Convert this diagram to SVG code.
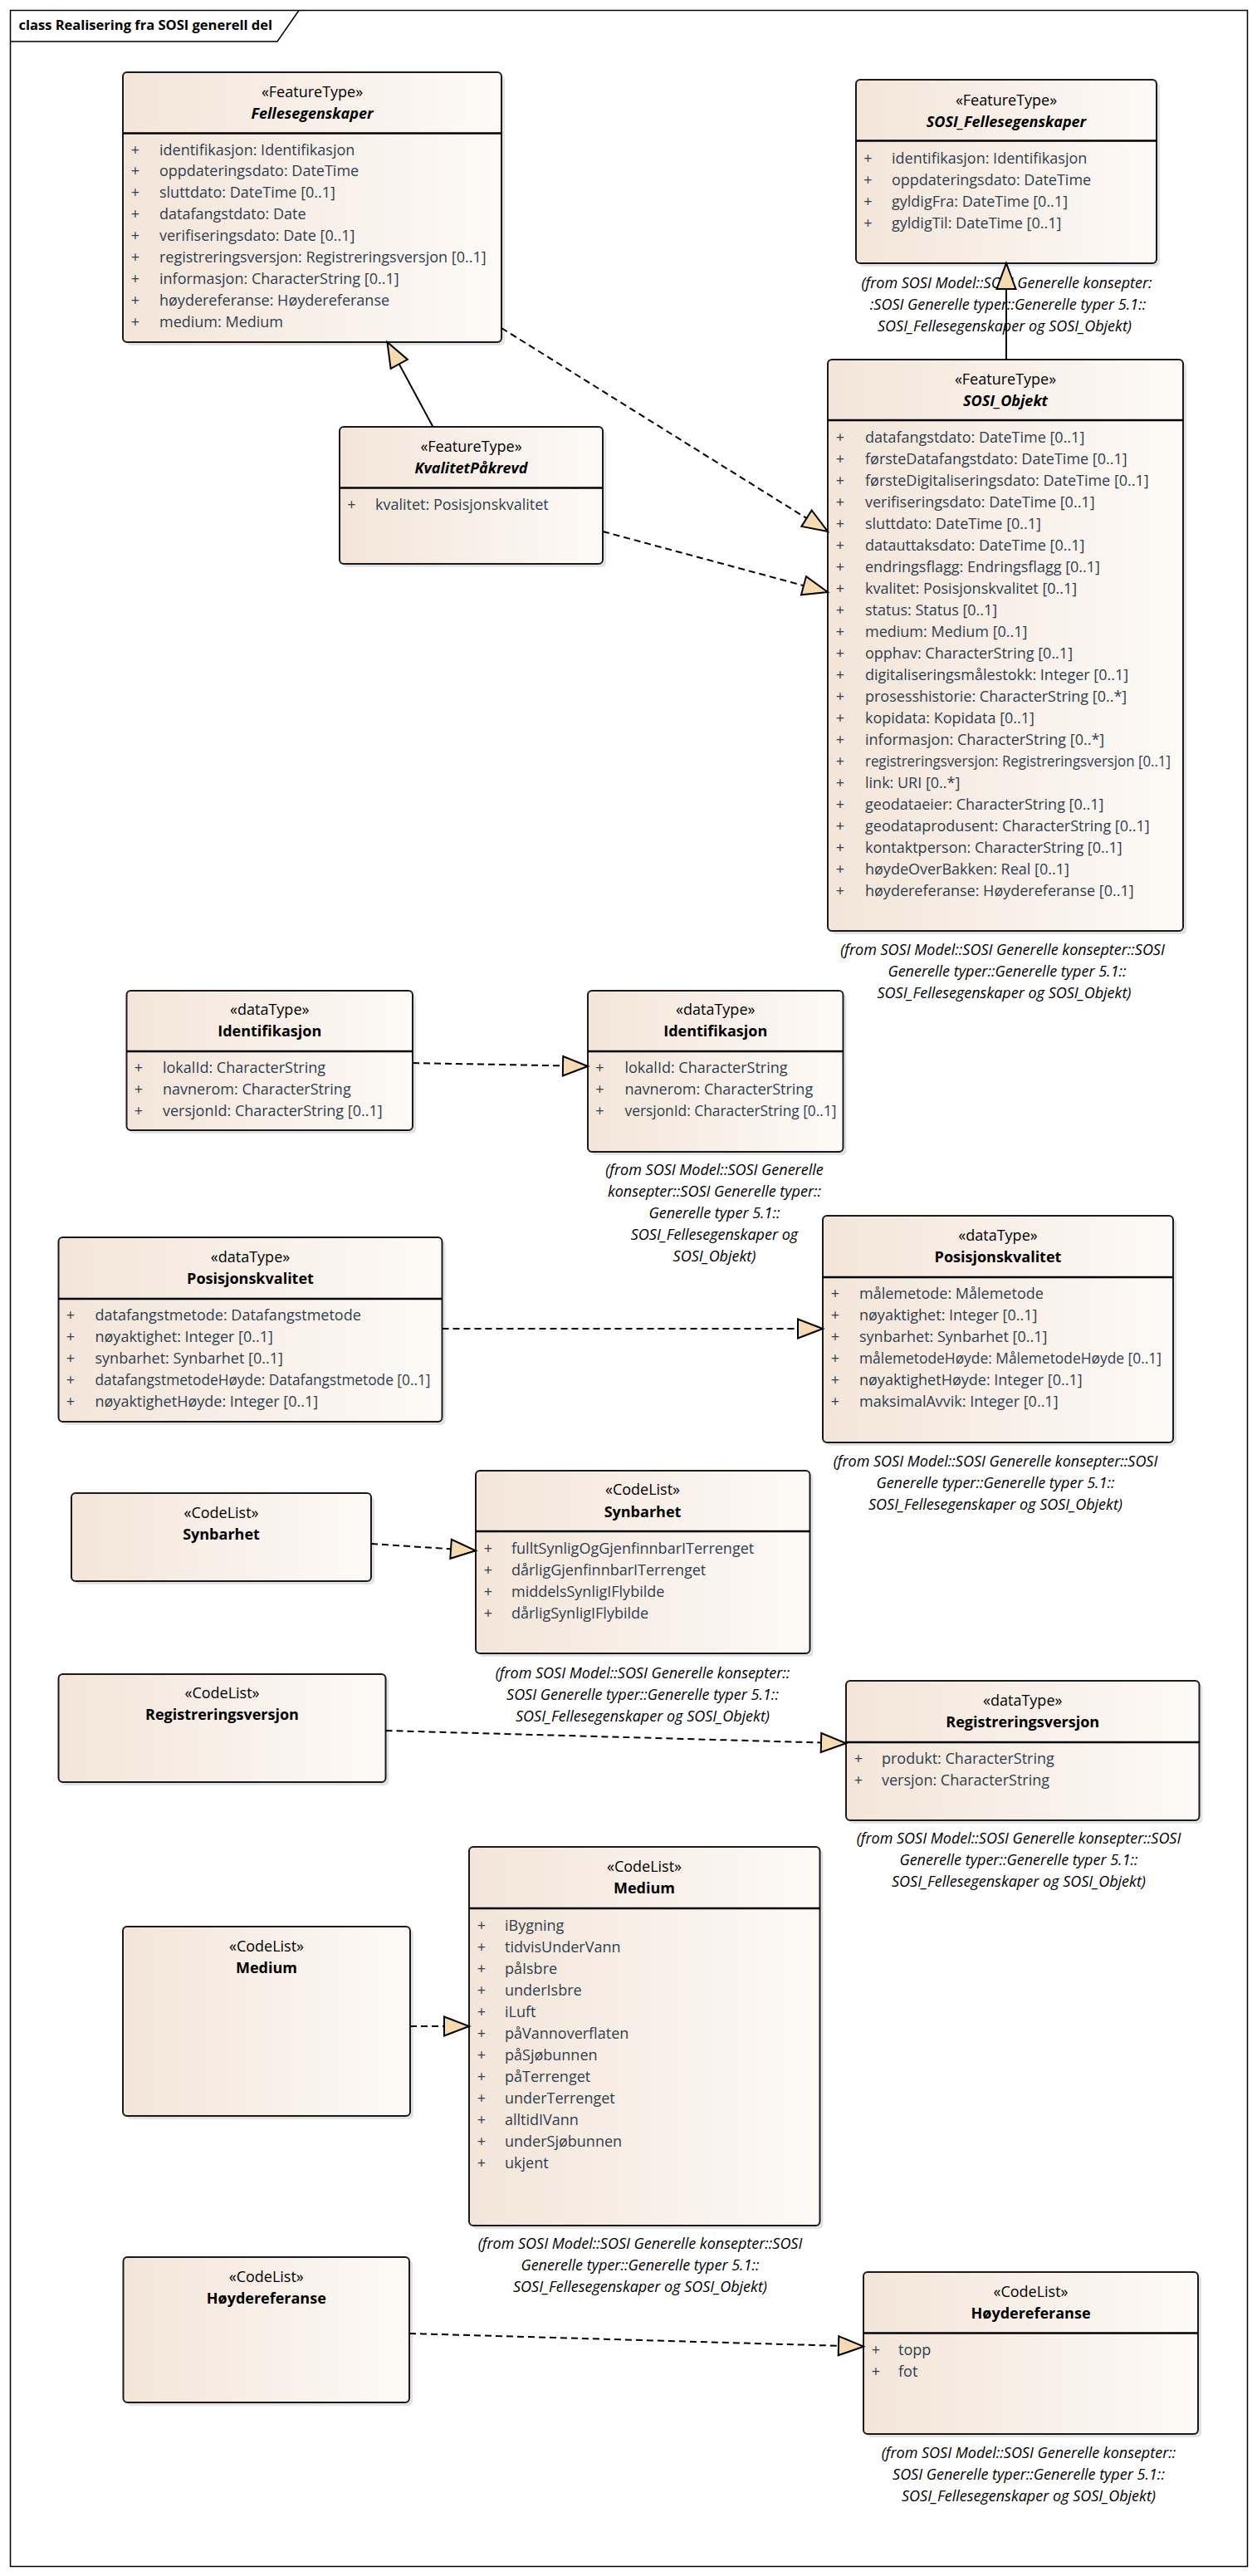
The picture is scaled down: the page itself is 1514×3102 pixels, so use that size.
<svg xmlns="http://www.w3.org/2000/svg" width="1514" height="3102" viewBox="0 0 1514 3102">
<defs>
<linearGradient id="g" x1="0" y1="0" x2="1" y2="0">
<stop offset="0" stop-color="#F3E5D8"/>
<stop offset="1" stop-color="#FDFAF7"/>
</linearGradient>
</defs>
<style>
text{font-family:"Open Sans","Liberation Sans",sans-serif;font-size:18px}
.shd{fill:#000;opacity:0.11}
.box{fill:url(#g);stroke:#1a1a1a;stroke-width:2}
.div{stroke:#000;stroke-width:2.5}
.st{text-anchor:middle;fill:#000}
.nm{text-anchor:middle;font-weight:bold;fill:#000}
.nmi{text-anchor:middle;font-weight:bold;font-style:italic;fill:#000}
.at{fill:#2F3F4F}
.pl{text-anchor:middle;fill:#2F3F4F}
.note{text-anchor:middle;font-style:italic;fill:#000}
.gen{stroke:#000;stroke-width:2;fill:none}
.real{stroke:#000;stroke-width:2;fill:none;stroke-dasharray:8 5}
.tri{fill:#F6DAB0;stroke:#000;stroke-width:2;stroke-linejoin:miter}
.frame{fill:none;stroke:#000;stroke-width:1.5}
.title{font-weight:bold;font-size:16.5px;fill:#000}
</style>

<g id="frame">
<rect class="frame" x="12.5" y="12.5" width="1490" height="3078"/>
<path class="frame" d="M12.5 50 H334 L360 12.5"/>
<text class="title" x="22.5" y="36">class Realisering fra SOSI generell del</text>
</g>

<g id="Fellesegenskaper">
<rect class="shd" x="152" y="91" width="456" height="325" rx="5"/>
<rect class="box" x="148" y="87" width="456" height="325" rx="5"/>
<line class="div" x1="148" y1="160.5" x2="604" y2="160.5"/>
<text class="st" x="376" y="117">«FeatureType»</text>
<text class="nmi" x="376" y="142.5">Fellesegenskaper</text>
<text class="pl" x="163" y="186.5">+</text><text class="at" x="192" y="186.5">identifikasjon: Identifikasjon</text>
<text class="pl" x="163" y="212.4">+</text><text class="at" x="192" y="212.4">oppdateringsdato: DateTime</text>
<text class="pl" x="163" y="238.3">+</text><text class="at" x="192" y="238.3">sluttdato: DateTime [0..1]</text>
<text class="pl" x="163" y="264.2">+</text><text class="at" x="192" y="264.2">datafangstdato: Date</text>
<text class="pl" x="163" y="290.1">+</text><text class="at" x="192" y="290.1">verifiseringsdato: Date [0..1]</text>
<text class="pl" x="163" y="316">+</text><text class="at" x="192" y="316">registreringsversjon: Registreringsversjon [0..1]</text>
<text class="pl" x="163" y="341.9">+</text><text class="at" x="192" y="341.9">informasjon: CharacterString [0..1]</text>
<text class="pl" x="163" y="367.8">+</text><text class="at" x="192" y="367.8">høydereferanse: Høydereferanse</text>
<text class="pl" x="163" y="393.7">+</text><text class="at" x="192" y="393.7">medium: Medium</text>
</g>

<g id="SOSI_Fellesegenskaper">
<rect class="shd" x="1035" y="100" width="362" height="221" rx="5"/>
<rect class="box" x="1031" y="96" width="362" height="221" rx="5"/>
<line class="div" x1="1031" y1="169.5" x2="1393" y2="169.5"/>
<text class="st" x="1212" y="126.5">«FeatureType»</text>
<text class="nmi" x="1212" y="152.5">SOSI_Fellesegenskaper</text>
<text class="pl" x="1045.5" y="196.5">+</text><text class="at" x="1074" y="196.5">identifikasjon: Identifikasjon</text>
<text class="pl" x="1045.5" y="222.5">+</text><text class="at" x="1074" y="222.5">oppdateringsdato: DateTime</text>
<text class="pl" x="1045.5" y="248.5">+</text><text class="at" x="1074" y="248.5">gyldigFra: DateTime [0..1]</text>
<text class="pl" x="1045.5" y="274.5">+</text><text class="at" x="1074" y="274.5">gyldigTil: DateTime [0..1]</text>
<text class="note" x="1212.5" y="346.5">(from SOSI Model::SOSI Generelle konsepter:</text>
<text class="note" x="1214" y="372.5">:SOSI Generelle typer::Generelle typer 5.1::</text>
<text class="note" x="1210" y="398.5">SOSI_Fellesegenskaper og SOSI_Objekt)</text>
</g>

<g id="SOSI_Objekt">
<rect class="shd" x="1001" y="437" width="428" height="688" rx="5"/>
<rect class="box" x="997" y="433" width="428" height="688" rx="5"/>
<line class="div" x1="997" y1="506" x2="1425" y2="506"/>
<text class="st" x="1211" y="462.5">«FeatureType»</text>
<text class="nmi" x="1211" y="488.5">SOSI_Objekt</text>
<text class="pl" x="1012" y="532.5">+</text><text class="at" x="1042" y="532.5">datafangstdato: DateTime [0..1]</text>
<text class="pl" x="1012" y="558.5">+</text><text class="at" x="1042" y="558.5">førsteDatafangstdato: DateTime [0..1]</text>
<text class="pl" x="1012" y="584.5">+</text><text class="at" x="1042" y="584.5">førsteDigitaliseringsdato: DateTime [0..1]</text>
<text class="pl" x="1012" y="610.5">+</text><text class="at" x="1042" y="610.5">verifiseringsdato: DateTime [0..1]</text>
<text class="pl" x="1012" y="636.5">+</text><text class="at" x="1042" y="636.5">sluttdato: DateTime [0..1]</text>
<text class="pl" x="1012" y="662.5">+</text><text class="at" x="1042" y="662.5">datauttaksdato: DateTime [0..1]</text>
<text class="pl" x="1012" y="688.5">+</text><text class="at" x="1042" y="688.5">endringsflagg: Endringsflagg [0..1]</text>
<text class="pl" x="1012" y="714.5">+</text><text class="at" x="1042" y="714.5">kvalitet: Posisjonskvalitet [0..1]</text>
<text class="pl" x="1012" y="740.5">+</text><text class="at" x="1042" y="740.5">status: Status [0..1]</text>
<text class="pl" x="1012" y="766.5">+</text><text class="at" x="1042" y="766.5">medium: Medium [0..1]</text>
<text class="pl" x="1012" y="792.5">+</text><text class="at" x="1042" y="792.5">opphav: CharacterString [0..1]</text>
<text class="pl" x="1012" y="818.5">+</text><text class="at" x="1042" y="818.5">digitaliseringsmålestokk: Integer [0..1]</text>
<text class="pl" x="1012" y="844.5">+</text><text class="at" x="1042" y="844.5">prosesshistorie: CharacterString [0..*]</text>
<text class="pl" x="1012" y="870.5">+</text><text class="at" x="1042" y="870.5">kopidata: Kopidata [0..1]</text>
<text class="pl" x="1012" y="896.5">+</text><text class="at" x="1042" y="896.5">informasjon: CharacterString [0..*]</text>
<text class="pl" x="1012" y="922.5">+</text><text class="at" x="1042" y="922.5" textLength="368" lengthAdjust="spacingAndGlyphs">registreringsversjon: Registreringsversjon [0..1]</text>
<text class="pl" x="1012" y="948.5">+</text><text class="at" x="1042" y="948.5">link: URI [0..*]</text>
<text class="pl" x="1012" y="974.5">+</text><text class="at" x="1042" y="974.5">geodataeier: CharacterString [0..1]</text>
<text class="pl" x="1012" y="1000.5">+</text><text class="at" x="1042" y="1000.5">geodataprodusent: CharacterString [0..1]</text>
<text class="pl" x="1012" y="1026.5">+</text><text class="at" x="1042" y="1026.5">kontaktperson: CharacterString [0..1]</text>
<text class="pl" x="1012" y="1052.5">+</text><text class="at" x="1042" y="1052.5">høydeOverBakken: Real [0..1]</text>
<text class="pl" x="1012" y="1078.5">+</text><text class="at" x="1042" y="1078.5">høydereferanse: Høydereferanse [0..1]</text>
<text class="note" x="1207.5" y="1150">(from SOSI Model::SOSI Generelle konsepter::SOSI</text>
<text class="note" x="1213" y="1176">Generelle typer::Generelle typer 5.1::</text>
<text class="note" x="1209.5" y="1202">SOSI_Fellesegenskaper og SOSI_Objekt)</text>
</g>

<g id="KvalitetPakrevd">
<rect class="shd" x="413" y="518" width="317" height="165" rx="5"/>
<rect class="box" x="409" y="514" width="317" height="165" rx="5"/>
<line class="div" x1="409" y1="587.5" x2="726" y2="587.5"/>
<text class="st" x="567.5" y="543.5">«FeatureType»</text>
<text class="nmi" x="567.5" y="569.5">KvalitetPåkrevd</text>
<text class="pl" x="423.5" y="613.5">+</text><text class="at" x="452" y="613.5">kvalitet: Posisjonskvalitet</text>
</g>

<g id="Identifikasjon_left">
<rect class="shd" x="156.5" y="1197" width="344.5" height="168" rx="5"/>
<rect class="box" x="152.5" y="1193" width="344.5" height="168" rx="5"/>
<line class="div" x1="152.5" y1="1266" x2="497" y2="1266"/>
<text class="st" x="324.75" y="1222">«dataType»</text>
<text class="nm" x="324.75" y="1248">Identifikasjon</text>
<text class="pl" x="167" y="1292">+</text><text class="at" x="196" y="1292">lokalId: CharacterString</text>
<text class="pl" x="167" y="1318">+</text><text class="at" x="196" y="1318">navnerom: CharacterString</text>
<text class="pl" x="167" y="1344">+</text><text class="at" x="196" y="1344">versjonId: CharacterString [0..1]</text>
</g>

<g id="Identifikasjon_right">
<rect class="shd" x="712" y="1197" width="307.5" height="194" rx="5"/>
<rect class="box" x="708" y="1193" width="307.5" height="194" rx="5"/>
<line class="div" x1="708" y1="1266" x2="1015.5" y2="1266"/>
<text class="st" x="861.75" y="1222">«dataType»</text>
<text class="nm" x="861.75" y="1248">Identifikasjon</text>
<text class="pl" x="722.5" y="1292">+</text><text class="at" x="752.5" y="1292">lokalId: CharacterString</text>
<text class="pl" x="722.5" y="1318">+</text><text class="at" x="752.5" y="1318">navnerom: CharacterString</text>
<text class="pl" x="722.5" y="1344">+</text><text class="at" x="752.5" y="1344" textLength="255" lengthAdjust="spacingAndGlyphs">versjonId: CharacterString [0..1]</text>
<text class="note" x="860.5" y="1415">(from SOSI Model::SOSI Generelle</text>
<text class="note" x="860.5" y="1441">konsepter::SOSI Generelle typer::</text>
<text class="note" x="860.5" y="1467">Generelle typer 5.1::</text>
<text class="note" x="860.5" y="1493">SOSI_Fellesegenskaper og</text>
<text class="note" x="860.5" y="1519">SOSI_Objekt)</text>
</g>

<g id="Posisjonskvalitet_left">
<rect class="shd" x="74.5" y="1494" width="462" height="222" rx="5"/>
<rect class="box" x="70.5" y="1490" width="462" height="222" rx="5"/>
<line class="div" x1="70.5" y1="1564" x2="532.5" y2="1564"/>
<text class="st" x="301.5" y="1520">«dataType»</text>
<text class="nm" x="301.5" y="1546">Posisjonskvalitet</text>
<text class="pl" x="85" y="1590">+</text><text class="at" x="114.5" y="1590">datafangstmetode: Datafangstmetode</text>
<text class="pl" x="85" y="1616">+</text><text class="at" x="114.5" y="1616">nøyaktighet: Integer [0..1]</text>
<text class="pl" x="85" y="1642">+</text><text class="at" x="114.5" y="1642">synbarhet: Synbarhet [0..1]</text>
<text class="pl" x="85" y="1668">+</text><text class="at" x="114.5" y="1668" textLength="404" lengthAdjust="spacingAndGlyphs">datafangstmetodeHøyde: Datafangstmetode [0..1]</text>
<text class="pl" x="85" y="1694">+</text><text class="at" x="114.5" y="1694">nøyaktighetHøyde: Integer [0..1]</text>
</g>

<g id="Posisjonskvalitet_right">
<rect class="shd" x="995" y="1468" width="422" height="273" rx="5"/>
<rect class="box" x="991" y="1464" width="422" height="273" rx="5"/>
<line class="div" x1="991" y1="1538" x2="1413" y2="1538"/>
<text class="st" x="1202" y="1493.5">«dataType»</text>
<text class="nm" x="1202" y="1519.5">Posisjonskvalitet</text>
<text class="pl" x="1006" y="1564">+</text><text class="at" x="1035" y="1564">målemetode: Målemetode</text>
<text class="pl" x="1006" y="1590">+</text><text class="at" x="1035" y="1590">nøyaktighet: Integer [0..1]</text>
<text class="pl" x="1006" y="1616">+</text><text class="at" x="1035" y="1616">synbarhet: Synbarhet [0..1]</text>
<text class="pl" x="1006" y="1642">+</text><text class="at" x="1035" y="1642" textLength="364" lengthAdjust="spacingAndGlyphs">målemetodeHøyde: MålemetodeHøyde [0..1]</text>
<text class="pl" x="1006" y="1668">+</text><text class="at" x="1035" y="1668">nøyaktighetHøyde: Integer [0..1]</text>
<text class="pl" x="1006" y="1694">+</text><text class="at" x="1035" y="1694">maksimalAvvik: Integer [0..1]</text>
<text class="note" x="1199" y="1766">(from SOSI Model::SOSI Generelle konsepter::SOSI</text>
<text class="note" x="1199" y="1792">Generelle typer::Generelle typer 5.1::</text>
<text class="note" x="1199" y="1818">SOSI_Fellesegenskaper og SOSI_Objekt)</text>
</g>

<g id="Synbarhet_left">
<rect class="shd" x="90" y="1802" width="361" height="106" rx="5"/>
<rect class="box" x="86" y="1798" width="361" height="106" rx="5"/>
<text class="st" x="266.5" y="1828">«CodeList»</text>
<text class="nm" x="266.5" y="1854">Synbarhet</text>
</g>

<g id="Synbarhet_right">
<rect class="shd" x="577" y="1775" width="402.5" height="220" rx="5"/>
<rect class="box" x="573" y="1771" width="402.5" height="220" rx="5"/>
<line class="div" x1="573" y1="1844" x2="975.5" y2="1844"/>
<text class="st" x="774" y="1800">«CodeList»</text>
<text class="nm" x="774" y="1826.5">Synbarhet</text>
<text class="pl" x="588" y="1871">+</text><text class="at" x="616" y="1871">fulltSynligOgGjenfinnbarITerrenget</text>
<text class="pl" x="588" y="1897">+</text><text class="at" x="616" y="1897">dårligGjenfinnbarITerrenget</text>
<text class="pl" x="588" y="1923">+</text><text class="at" x="616" y="1923">middelsSynligIFlybilde</text>
<text class="pl" x="588" y="1949">+</text><text class="at" x="616" y="1949">dårligSynligIFlybilde</text>
<text class="note" x="774" y="2021">(from SOSI Model::SOSI Generelle konsepter::</text>
<text class="note" x="774" y="2047">SOSI Generelle typer::Generelle typer 5.1::</text>
<text class="note" x="774" y="2073">SOSI_Fellesegenskaper og SOSI_Objekt)</text>
</g>

<g id="Registreringsversjon_left">
<rect class="shd" x="74.5" y="2020" width="394" height="130" rx="5"/>
<rect class="box" x="70.5" y="2016" width="394" height="130" rx="5"/>
<text class="st" x="267.5" y="2045">«CodeList»</text>
<text class="nm" x="267.5" y="2071">Registreringsversjon</text>
</g>

<g id="Registreringsversjon_right">
<rect class="shd" x="1023" y="2028" width="425.5" height="168" rx="5"/>
<rect class="box" x="1019" y="2024" width="425.5" height="168" rx="5"/>
<line class="div" x1="1019" y1="2098" x2="1444.5" y2="2098"/>
<text class="st" x="1231.75" y="2053.5">«dataType»</text>
<text class="nm" x="1231.75" y="2079.5">Registreringsversjon</text>
<text class="pl" x="1034" y="2124">+</text><text class="at" x="1062" y="2124">produkt: CharacterString</text>
<text class="pl" x="1034" y="2150">+</text><text class="at" x="1062" y="2150">versjon: CharacterString</text>
<text class="note" x="1227" y="2220">(from SOSI Model::SOSI Generelle konsepter::SOSI</text>
<text class="note" x="1227" y="2246">Generelle typer::Generelle typer 5.1::</text>
<text class="note" x="1227" y="2272">SOSI_Fellesegenskaper og SOSI_Objekt)</text>
</g>

<g id="Medium_left">
<rect class="shd" x="152" y="2324" width="346" height="228" rx="5"/>
<rect class="box" x="148" y="2320" width="346" height="228" rx="5"/>
<text class="st" x="321" y="2350">«CodeList»</text>
<text class="nm" x="321" y="2376">Medium</text>
</g>

<g id="Medium_right">
<rect class="shd" x="569" y="2228" width="422.5" height="456" rx="5"/>
<rect class="box" x="565" y="2224" width="422.5" height="456" rx="5"/>
<line class="div" x1="565" y1="2298" x2="987.5" y2="2298"/>
<text class="st" x="776" y="2253.5">«CodeList»</text>
<text class="nm" x="776" y="2280">Medium</text>
<text class="pl" x="580" y="2324.5">+</text><text class="at" x="608" y="2324.5">iBygning</text>
<text class="pl" x="580" y="2350.5">+</text><text class="at" x="608" y="2350.5">tidvisUnderVann</text>
<text class="pl" x="580" y="2376.5">+</text><text class="at" x="608" y="2376.5">påIsbre</text>
<text class="pl" x="580" y="2402.5">+</text><text class="at" x="608" y="2402.5">underIsbre</text>
<text class="pl" x="580" y="2428.5">+</text><text class="at" x="608" y="2428.5">iLuft</text>
<text class="pl" x="580" y="2454.5">+</text><text class="at" x="608" y="2454.5">påVannoverflaten</text>
<text class="pl" x="580" y="2480.5">+</text><text class="at" x="608" y="2480.5">påSjøbunnen</text>
<text class="pl" x="580" y="2506.5">+</text><text class="at" x="608" y="2506.5">påTerrenget</text>
<text class="pl" x="580" y="2532.5">+</text><text class="at" x="608" y="2532.5">underTerrenget</text>
<text class="pl" x="580" y="2558.5">+</text><text class="at" x="608" y="2558.5">alltidIVann</text>
<text class="pl" x="580" y="2584.5">+</text><text class="at" x="608" y="2584.5">underSjøbunnen</text>
<text class="pl" x="580" y="2610.5">+</text><text class="at" x="608" y="2610.5">ukjent</text>
<text class="note" x="771" y="2708">(from SOSI Model::SOSI Generelle konsepter::SOSI</text>
<text class="note" x="771" y="2734">Generelle typer::Generelle typer 5.1::</text>
<text class="note" x="771" y="2760">SOSI_Fellesegenskaper og SOSI_Objekt)</text>
</g>

<g id="Hoydereferanse_left">
<rect class="shd" x="152.5" y="2722" width="344.5" height="175" rx="5"/>
<rect class="box" x="148.5" y="2718" width="344.5" height="175" rx="5"/>
<text class="st" x="320.75" y="2748">«CodeList»</text>
<text class="nm" x="320.75" y="2774">Høydereferanse</text>
</g>

<g id="Hoydereferanse_right">
<rect class="shd" x="1044" y="2740" width="403" height="195" rx="5"/>
<rect class="box" x="1040" y="2736" width="403" height="195" rx="5"/>
<line class="div" x1="1040" y1="2809.5" x2="1443" y2="2809.5"/>
<text class="st" x="1241.5" y="2766">«CodeList»</text>
<text class="nm" x="1241.5" y="2792">Høydereferanse</text>
<text class="pl" x="1055" y="2836">+</text><text class="at" x="1082" y="2836">topp</text>
<text class="pl" x="1055" y="2862">+</text><text class="at" x="1082" y="2862">fot</text>
<text class="note" x="1239" y="2960">(from SOSI Model::SOSI Generelle konsepter::</text>
<text class="note" x="1239" y="2986">SOSI Generelle typer::Generelle typer 5.1::</text>
<text class="note" x="1239" y="3012">SOSI_Fellesegenskaper og SOSI_Objekt)</text>
</g>

<g id="connectors">
<line class="gen" x1="521.5" y1="514" x2="480.7" y2="438.4"/>
<polygon class="tri" points="466.5,412 490.9,432.9 470.6,443.9"/>
<line class="gen" x1="1212" y1="433" x2="1212" y2="348"/>
<polygon class="tri" points="1212,317 1223.5,348 1200.5,348"/>
<line class="real" x1="604" y1="395" x2="971.5" y2="624.1"/>
<polygon class="tri" points="997,640 965.4,633.9 977.6,614.4"/>
<line class="real" x1="726" y1="640" x2="968" y2="705.2"/>
<polygon class="tri" points="997,713 965,716.3 971,694.1"/>
<line class="real" x1="497" y1="1280" x2="678" y2="1283.4"/>
<polygon class="tri" points="708,1284 677.8,1295.5 678.2,1272"/>
<line class="real" x1="532.5" y1="1600" x2="961" y2="1600"/>
<polygon class="tri" points="991,1600 961,1611.5 961,1588.5"/>
<line class="real" x1="447" y1="1859" x2="543.1" y2="1865.3"/>
<polygon class="tri" points="573,1867.3 542.3,1876.8 543.8,1853.8"/>
<line class="real" x1="464.5" y1="2084" x2="989" y2="2098.5"/>
<polygon class="tri" points="1019,2099.3 988.7,2110 989.3,2087"/>
<line class="real" x1="494" y1="2440" x2="535" y2="2440"/>
<polygon class="tri" points="565,2440 535,2451.5 535,2428.5"/>
<line class="real" x1="493" y1="2810" x2="1010" y2="2824.8"/>
<polygon class="tri" points="1040,2825.7 1009.7,2836.3 1010.3,2813.3"/>
</g>
</svg>
